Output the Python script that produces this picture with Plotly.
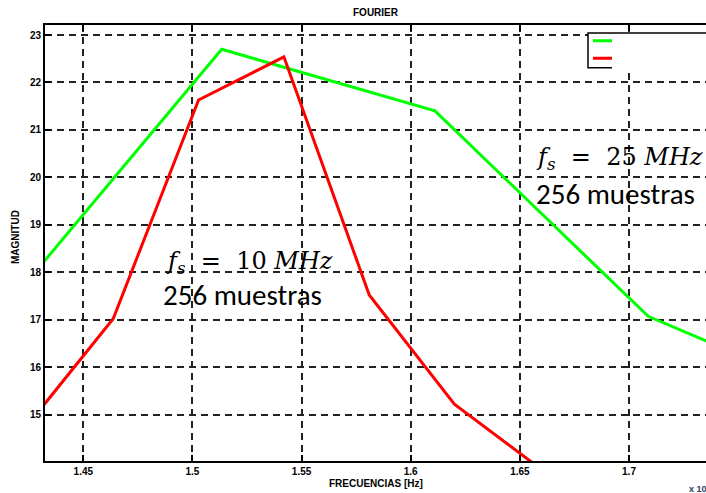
import plotly.graph_objects as go

# ---- data ----
freq_25 = [1.4157, 1.5134, 1.6111, 1.7088, 1.8064]
mag_25 = [17.33, 22.70, 21.40, 17.07, 15.17]

freq_10 = [1.4247, 1.4637, 1.5028, 1.5419, 1.5810, 1.6200, 1.6591]
mag_10 = [14.79, 17.02, 21.63, 22.54, 17.52, 15.22, 13.87]

x_ticks = [1.45, 1.50, 1.55, 1.60, 1.65, 1.70]
x_tick_text = ["1.45", "1.5", "1.55", "1.6", "1.65", "1.7"]
y_ticks = [15, 16, 17, 18, 19, 20, 21, 22, 23]

W, H = 706, 493
ML, MT, MB, MR = 45, 25, 32, 0
PW = W - ML - MR
PH = H - MT - MB


def px(x):
    return (x - ML) / PW


def py(y):
    return (H - MB - y) / PH


fig = go.Figure()
fig.add_trace(go.Scatter(x=freq_25, y=mag_25, mode="lines",
                         line=dict(color="#00ff00", width=3), showlegend=False))
fig.add_trace(go.Scatter(x=freq_10, y=mag_10, mode="lines",
                         line=dict(color="#ff0000", width=3), showlegend=False))

tickfont = dict(family="Liberation Sans, Arial", size=10, color="black", weight="bold")

fig.update_xaxes(range=[1.43245, 1.73528], tickvals=x_ticks, ticktext=x_tick_text,
                 showline=True, linecolor="black", linewidth=2, mirror="allticks",
                 ticks="inside", ticklen=6, tickcolor="black", tickwidth=1.5,
                 showgrid=True, gridcolor="#222", gridwidth=1.5, griddash="7px,5px",
                 zeroline=False, tickfont=tickfont)
fig.update_yaxes(range=[14.021, 23.211], tickvals=y_ticks,
                 showline=True, linecolor="black", linewidth=2,
                 ticks="inside", ticklen=6, tickcolor="black", tickwidth=1.5,
                 showgrid=True, gridcolor="#222", gridwidth=1.5, griddash="7px,5px",
                 zeroline=False, tickfont=tickfont)

shapes = [
    dict(type="rect", xref="paper", yref="paper", x0=px(588), x1=px(720), y0=py(67.7), y1=py(33),
         line=dict(color="black", width=1.5), fillcolor="white", layer="above"),
    dict(type="line", xref="paper", yref="paper", x0=px(593), x1=px(640), y0=py(40.7), y1=py(40.7),
         line=dict(color="#00ff00", width=3), layer="above"),
    dict(type="line", xref="paper", yref="paper", x0=px(593), x1=px(640), y0=py(58.3), y1=py(58.3),
         line=dict(color="#ff0000", width=3), layer="above"),
    dict(type="rect", xref="paper", yref="paper", x0=px(612), x1=px(720), y0=py(71), y1=py(35),
         line=dict(width=0), fillcolor="white", layer="above"),
]

lab = dict(family="Liberation Sans, Arial", size=10, color="black")
math_font = dict(family="DejaVu Serif", size=24, color="black")
txt_font = dict(family="Carlito, Lato", size=29, color="black")

ann = [
    dict(x=px(376), y=py(13), text="<b>FOURIER</b>", font=lab),
    dict(x=px(376), y=py(483), text="<b>FRECUENCIAS [Hz]</b>", font=lab),
    dict(x=px(15), y=py(237), text="<b>MAGNITUD</b>", font=lab, textangle=-90),
    dict(x=px(687), y=py(488), text="<b>x 10<sup>6</sup></b>", font=dict(family="Liberation Sans", size=9),
         xanchor="left"),
    dict(x=px(249), y=py(262), text="<i>f</i><sub><i>s</i></sub>  =  10 <i>MHz</i>", font=math_font),
    dict(x=px(242), y=py(295), text="256 muestras", font=txt_font),
    dict(x=px(619), y=py(158), text="<i>f</i><sub><i>s</i></sub>  =  25 <i>MHz</i>", font=math_font),
    dict(x=px(615), y=py(194), text="256 muestras", font=txt_font),
]
for a in ann:
    a.update(xref="paper", yref="paper", showarrow=False)
    a.setdefault("xanchor", "center")
    a.setdefault("yanchor", "middle")

fig.update_layout(width=W, height=H, margin=dict(l=ML, r=MR, t=MT, b=MB),
                  paper_bgcolor="white", plot_bgcolor="white",
                  shapes=shapes, annotations=ann, showlegend=False)

fig.write_html("out.html")
